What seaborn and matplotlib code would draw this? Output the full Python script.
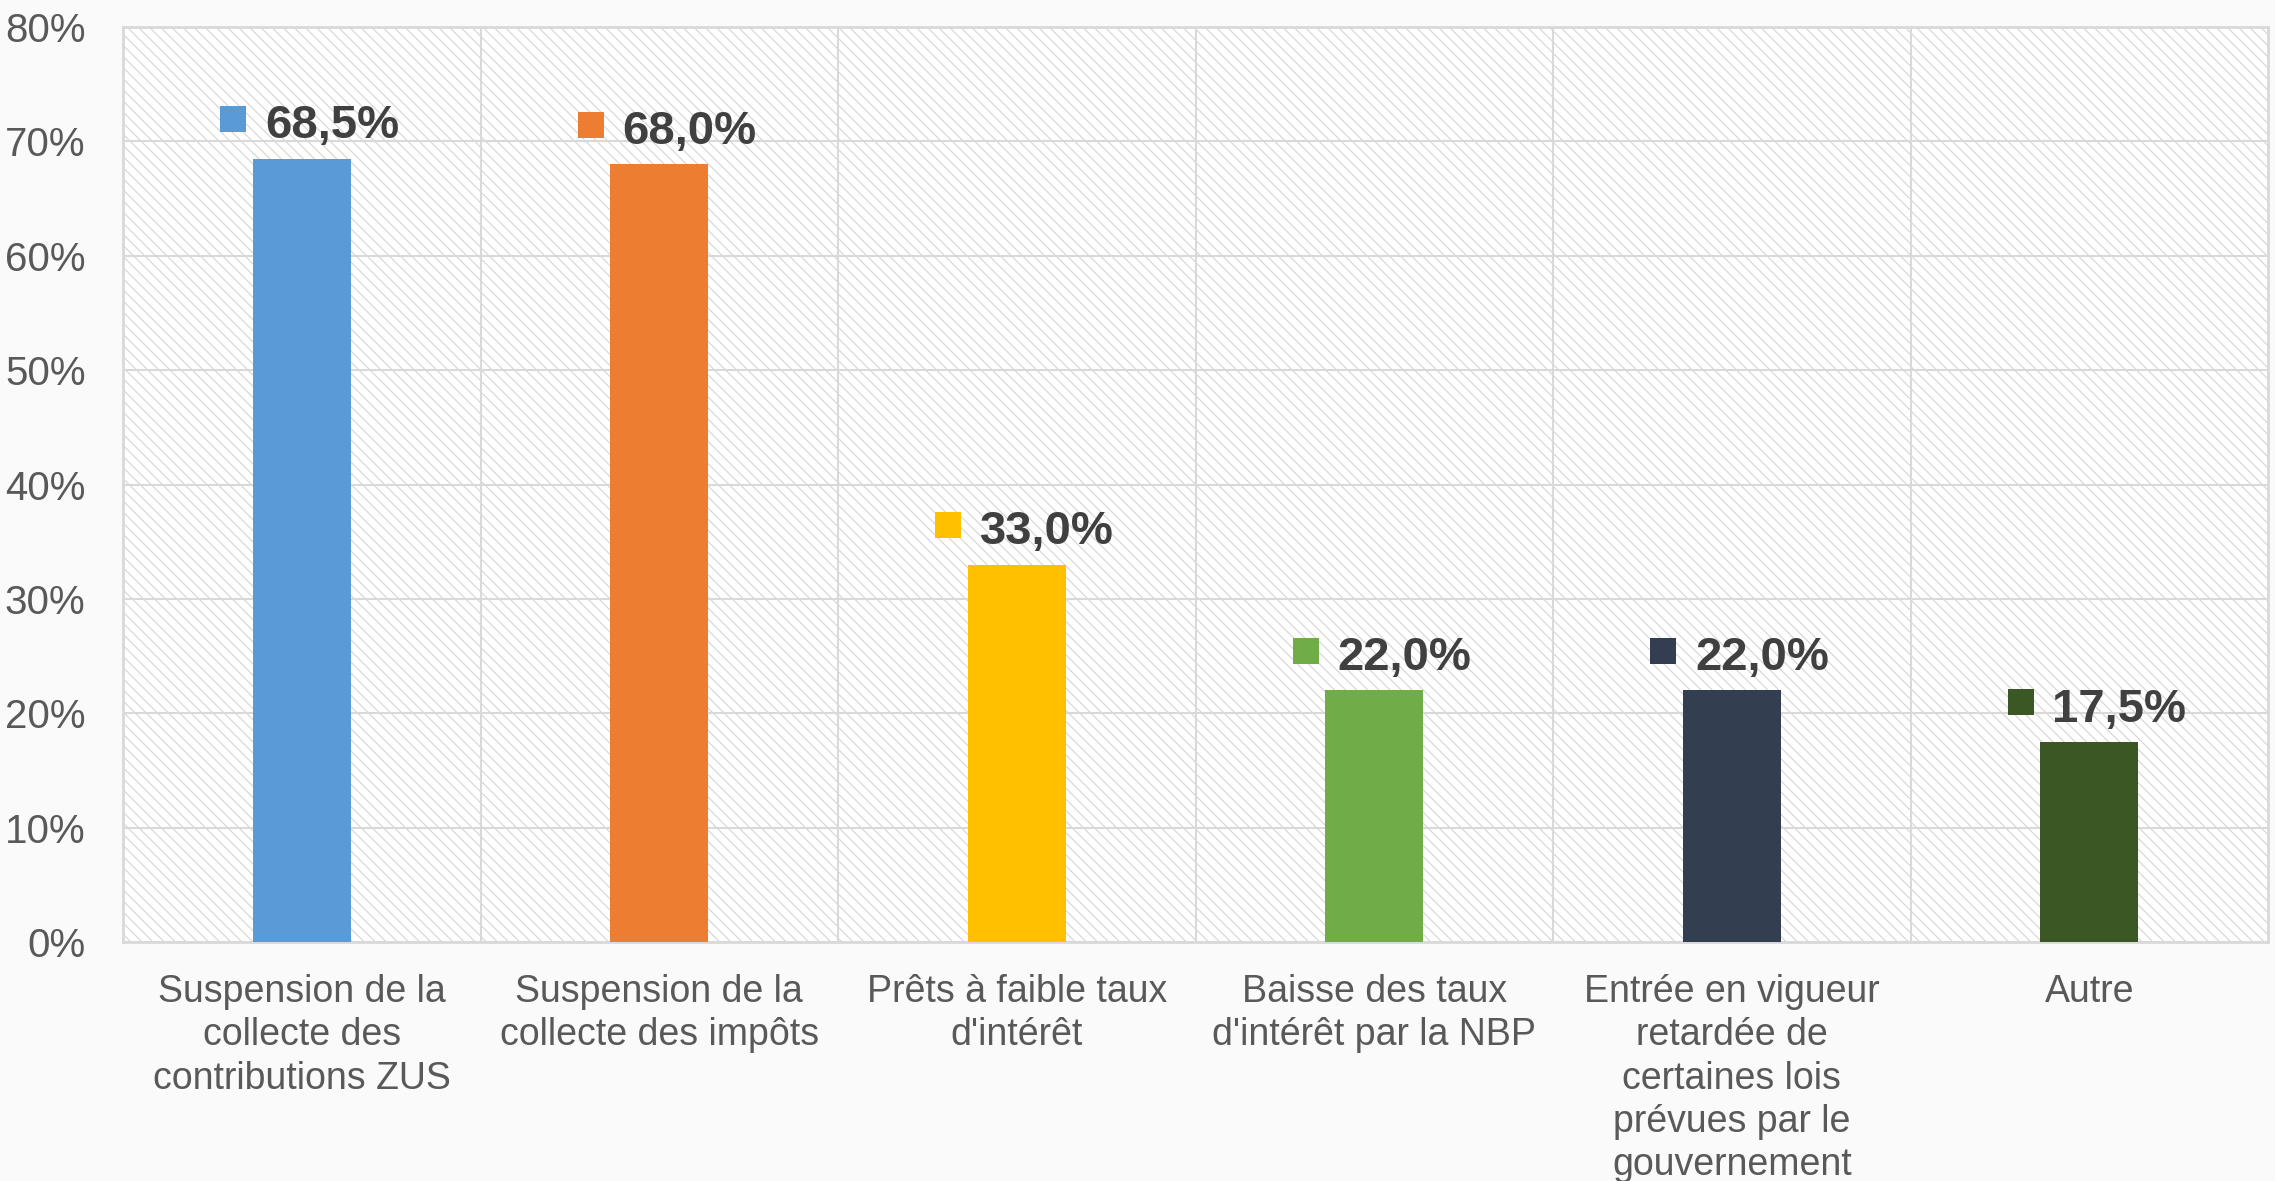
import matplotlib
matplotlib.use("Agg")
import matplotlib.pyplot as plt
import matplotlib.transforms as mtransforms
from matplotlib.patches import Rectangle
import seaborn as sns
import pandas as pd

# ---- data ----
categories = [
    "Suspension de la\ncollecte des\ncontributions ZUS",
    "Suspension de la\ncollecte des impôts",
    "Prêts à faible taux\nd'intérêt",
    "Baisse des taux\nd'intérêt par la NBP",
    "Entrée en vigueur\nretardée de\ncertaines lois\nprévues par le\ngouvernement",
    "Autre",
]
values = [68.5, 68.0, 33.0, 22.0, 22.0, 17.5]
value_labels = ["68,5%", "68,0%", "33,0%", "22,0%", "22,0%", "17,5%"]
colors = ["#5B9BD5", "#ED7D31", "#FFC000", "#70AD47", "#333F50", "#3A5724"]
y_ticks = [0, 10, 20, 30, 40, 50, 60, 70, 80]
y_tick_labels = ["0%", "10%", "20%", "30%", "40%", "50%", "60%", "70%", "80%"]

sns.set_theme(style="white")
fonts = ["Liberation Sans Narrow", "Liberation Sans", "DejaVu Sans"]
plt.rcParams["font.family"] = fonts
plt.rcParams["hatch.linewidth"] = 0.75

BG = "#FAFAFA"
GRID = "#D9D9D9"

fig = plt.figure(figsize=(22.75, 11.81), dpi=100, facecolor=BG)
ax = fig.add_axes([123 / 2275, 1 - 942 / 1181, (2268 - 123) / 2275, (942 - 27) / 1181])
ax.set_facecolor("white")

# hatched background
bgrect = Rectangle((0, 0), 1, 1, transform=ax.transAxes, facecolor="white",
                   edgecolor="#D2D2D2", linewidth=0, hatch="\\\\\\", zorder=0)
ax.add_patch(bgrect)

df = pd.DataFrame({"cat": categories, "val": values})
sns.barplot(data=df, x="cat", y="val", hue="cat", palette=colors, legend=False,
            width=0.274, ax=ax, zorder=3, saturation=1, linewidth=0)

ax.set_xlim(-0.5, len(categories) - 0.5)
ax.set_ylim(0, 80)
ax.set_yticks(y_ticks)
ax.set_yticklabels(y_tick_labels)
ax.set_xticks(range(len(categories)))
ax.set_xticklabels(categories, linespacing=1.26)
ax.set_xticks([i + 0.5 for i in range(len(categories) - 1)], minor=True)
ax.set_xlabel("")
ax.set_ylabel("")

ax.tick_params(axis="y", length=0, pad=27, labelsize=29, labelcolor="#595959")
ax.tick_params(axis="x", which="both", length=0, pad=23, labelsize=27, labelcolor="#595959")

ax.grid(axis="y", color=GRID, linewidth=1.5, zorder=1)
ax.grid(axis="x", which="minor", color=GRID, linewidth=1.5, zorder=1)
ax.grid(axis="x", which="major", visible=False)
ax.set_axisbelow(True)

for s in ax.spines.values():
    s.set_color(GRID)
    s.set_linewidth(2)
    s.set_visible(True)

# value labels with colored square
for i, (v, lab, c) in enumerate(zip(values, value_labels, colors)):
    tr_sq = mtransforms.offset_copy(ax.transData, fig=fig, x=-49.5, y=28.5, units="points")
    ax.plot([i], [v], marker="s", markersize=18.5, color=c, markeredgewidth=0,
            transform=tr_sq, zorder=4, clip_on=False)
    ax.annotate(lab, xy=(i, v), xytext=(-26.5, 14.5), textcoords="offset points",
                ha="left", va="baseline", fontsize=34, fontweight="bold",
                color="#404040", zorder=4)

fig.savefig("out.png", dpi=100, facecolor=BG)
